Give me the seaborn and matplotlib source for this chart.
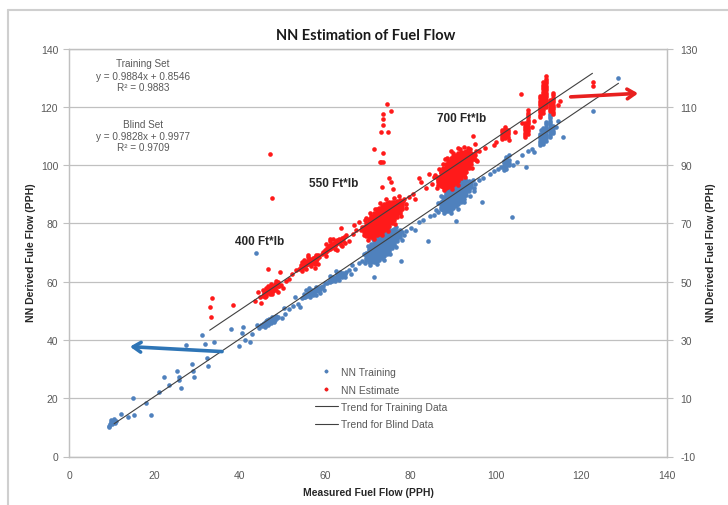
import matplotlib
matplotlib.use("Agg")
import matplotlib.pyplot as plt
from matplotlib.lines import Line2D
import pandas as pd
import seaborn as sns

# ---------------- data ----------------
# NN Training (left axis): scattered points
blue_scatter = [
    (9.2, 10.5), (9.5, 11.2), (9.8, 11.8), (10.1, 12.3), (10.4, 12.9), (9.4, 10.0), (10.0, 11.0),
    (10.6, 11.6), (9.7, 12.5), (10.9, 12.2), (12.2, 14.5), (13.8, 13.7), (15.2, 14.4), (19.2, 14.1),
    (15.0, 20.0), (18.0, 18.5), (21.0, 22.2), (22.2, 27.4), (23.3, 24.5), (25.2, 29.3), (25.7, 27.4),
    (25.8, 26.2), (26.1, 23.6), (28.7, 31.6), (29.0, 29.3), (29.2, 27.4), (32.2, 33.7), (32.4, 31.1),
    (27.4, 38.3), (31.0, 41.7), (31.8, 38.7), (34.0, 39.3), (37.9, 43.8), (40.7, 44.3), (40.4, 42.3),
    (41.1, 40.1), (42.4, 39.2), (39.8, 38.0), (44.1, 45.0), (44.9, 45.2), (43.7, 69.9), (44.5, 44.0),
    (50.5, 49.0), (51.5, 50.5), (52.5, 51.8), (49.8, 47.5), (50.2, 50.8), (53.5, 52.5), (42.8, 42.0),
    (53.0, 54.8), (54.0, 51.2), (59.8, 57.0), (60.0, 59.5), (65.5, 64.0), (66.3, 65.8), (67.0, 64.5),
    (67.8, 66.5), (68.5, 67.0), (66.0, 62.5), (71.5, 61.7), (77.8, 67.0), (78.5, 76.0), (79.0, 77.5),
    (80.0, 78.5), (81.0, 77.8), (82.0, 80.5), (83.0, 81.0), (84.1, 73.9), (84.5, 82.5), (85.5, 83.0),
    (86.0, 84.5), (90.6, 80.7), (96.7, 87.3), (95.0, 93.5), (94.8, 91.0), (96.0, 94.8), (97.0, 95.5),
    (98.5, 97.0), (99.5, 98.0), (100.5, 98.5), (103.7, 82.1), (104.0, 100.0), (105.0, 101.0),
    (106.0, 103.5), (107.0, 99.4), (107.5, 105.0), (108.5, 105.5), (109.0, 104.5), (114.0, 113.0),
    (114.5, 115.0), (115.7, 109.8), (122.7, 118.4), (128.7, 130.0), (110.5, 112.0), (113.2, 118.5),
    # fringe of the 550 and 700 clusters
    (69.0, 69.5), (70.0, 72.3), (71.2, 74.6), (72.3, 76.0), (74.8, 78.3), (76.6, 78.8), (78.0, 77.0),
    (77.9, 74.3), (76.5, 71.8), (75.2, 69.4), (73.8, 67.4), (72.2, 66.1), (70.5, 65.8), (69.2, 66.4),
    (86.5, 86.9), (87.2, 89.3), (88.3, 91.5), (89.5, 93.5), (91.0, 95.2), (92.8, 95.3), (94.6, 94.8),
    (94.9, 92.0), (93.9, 89.4), (92.6, 87.2), (91.0, 85.0), (89.4, 83.6), (87.8, 83.6), (86.4, 84.0),
]
# NN Training: 400 / 550 clusters (x, y)
blue_400 = [
    (45.2, 44.8), (45.5, 45.3), (45.8, 45.0), (46.0, 45.6), (46.2, 45.2), (46.4, 46.0), (46.5, 45.5),
    (46.7, 46.3), (46.8, 45.9), (47.0, 46.6), (47.1, 46.1), (47.3, 46.9), (47.4, 46.4), (47.6, 47.1),
    (47.8, 46.7), (48.0, 47.4), (48.2, 47.0), (48.4, 47.8), (48.6, 47.5), (48.9, 48.0), (46.1, 46.4),
    (46.9, 47.2), (47.5, 47.7), (45.9, 44.6), (46.6, 45.1), (47.9, 46.3), (48.5, 48.3), (45.6, 45.9),
    (47.2, 45.7), (46.3, 46.8),
]
blue_57 = [
    (54.6, 54.4), (55.0, 54.9), (55.3, 54.6), (55.5, 55.3), (55.8, 55.0), (56.0, 55.7), (56.2, 55.3),
    (56.4, 56.1), (56.6, 55.7), (56.8, 56.5), (57.0, 56.0), (57.2, 56.8), (57.4, 56.4), (57.6, 57.2),
    (57.8, 56.8), (58.0, 57.6), (58.2, 57.1), (58.4, 57.9), (58.7, 57.5), (59.0, 58.3), (59.3, 58.0),
    (56.1, 56.6), (56.9, 57.3), (57.7, 58.0), (57.1, 55.5), (58.5, 56.7), (55.9, 56.2), (54.9, 55.7),
    (59.5, 58.6), (56.5, 54.9), (55.5, 57.2), (57.8, 55.4), (58.8, 56.2), (56.2, 57.9),
]
blue_62 = [
    (60.4, 59.6), (60.8, 60.1), (61.1, 59.9), (61.3, 60.6), (61.6, 60.3), (61.8, 61.0), (62.0, 60.7),
    (62.3, 61.4), (62.5, 61.0), (62.7, 61.8), (63.0, 61.4), (63.2, 62.2), (63.4, 61.8), (63.7, 62.6),
    (63.9, 62.2), (64.2, 63.0), (64.5, 62.7), (61.9, 61.7), (62.8, 62.5), (63.5, 63.2), (62.2, 60.2),
    (64.0, 61.6), (61.4, 61.3), (64.8, 63.4), (61.0, 61.8), (62.6, 63.5), (63.3, 60.5), (64.6, 61.5),
]
# NN Training: dense clusters, {measured x: [derived y values]}
blue_73 = {
    69.6: [67.3, 68.2, 69.1, 69.9],
    70.2: [66.9, 67.8, 68.7, 69.6, 70.5, 71.3],
    70.8: [66.7, 67.6, 68.5, 69.4, 70.3, 71.2, 72.1, 72.9],
    71.4: [66.7, 67.6, 68.5, 69.4, 70.3, 71.2, 72.1, 73.0, 73.9],
    72.0: [67.0, 67.9, 68.8, 69.7, 70.6, 71.5, 72.4, 73.3, 74.2, 75.0],
    72.6: [67.5, 68.4, 69.3, 70.2, 71.1, 72.0, 72.9, 73.8, 74.7, 75.6],
    73.2: [68.1, 69.0, 69.9, 70.8, 71.7, 72.6, 73.5, 74.4, 75.3, 76.2],
    73.8: [68.7, 69.6, 70.5, 71.4, 72.3, 73.2, 74.1, 75.0, 75.9, 76.8],
    74.4: [69.5, 70.4, 71.3, 72.2, 73.1, 74.0, 74.9, 75.8, 76.7, 77.3],
    75.0: [70.4, 71.3, 72.2, 73.1, 74.0, 74.9, 75.8, 76.7, 77.6],
    75.6: [71.4, 72.3, 73.2, 74.1, 75.0, 75.9, 76.8, 77.7],
    76.2: [72.5, 73.4, 74.3, 75.2, 76.1, 77.0, 77.9],
    76.8: [73.8, 74.7, 75.6, 76.5, 77.4],
    77.4: [75.2, 76.1, 77.0, 77.7],
}
blue_90 = {
    87.0: [84.8, 85.7, 86.6, 87.4],
    87.6: [84.5, 85.4, 86.3, 87.2, 88.1, 88.9],
    88.2: [84.4, 85.3, 86.2, 87.1, 88.0, 88.9, 89.8, 90.3],
    88.8: [84.4, 85.3, 86.2, 87.1, 88.0, 88.9, 89.8, 90.7, 91.4],
    89.4: [84.7, 85.6, 86.5, 87.4, 88.3, 89.2, 90.1, 91.0, 91.9, 92.3],
    90.0: [85.2, 86.1, 87.0, 87.9, 88.8, 89.7, 90.6, 91.5, 92.4, 93.0],
    90.6: [85.8, 86.7, 87.6, 88.5, 89.4, 90.3, 91.2, 92.1, 93.0, 93.6],
    91.2: [86.5, 87.4, 88.3, 89.2, 90.1, 91.0, 91.9, 92.8, 93.7, 94.1],
    91.8: [87.4, 88.3, 89.2, 90.1, 91.0, 91.9, 92.8, 93.7, 94.4],
    92.4: [88.5, 89.4, 90.3, 91.2, 92.1, 93.0, 93.9, 94.5],
    93.0: [89.7, 90.6, 91.5, 92.4, 93.3, 94.4],
    93.6: [91.0, 91.9, 92.8, 93.7, 94.4],
    94.2: [92.4, 93.3, 94.2],
}
blue_streaks = {
    101.2: [99.4], 101.8: [98.2, 99.0, 99.8, 100.6, 101.4],
    102.4: [98.8, 99.6, 100.4, 101.2, 102.0, 102.8], 103.0: [100.0, 100.8, 101.6, 103.6],
    110.2: [106.8, 107.6, 108.4, 109.2, 110.0, 110.8],
    111.0: [107.2, 108.0, 108.8, 109.6, 110.4, 111.2, 112.0, 112.8],
    111.8: [108.4, 109.2, 110.0, 110.8, 111.6, 112.4, 113.2, 114.0, 114.8],
    112.6: [109.6, 110.4, 111.2, 112.0, 112.8, 113.6, 114.4, 115.2, 116.0, 116.8, 117.6],
    113.4: [111.0, 111.8, 112.6, 113.4],
}

# NN Estimate (right axis values)
red_scatter = [
    (33.4, 44.3), (32.9, 41.4), (33.2, 37.7), (38.3, 41.9), (44.6, 44.9), (46.6, 54.5), (49.3, 53.4),
    (50.1, 47.7), (43.5, 43.2), (44.2, 46.6), (53.2, 54.0), (50.8, 50.2), (51.5, 51.0), (52.2, 52.5),
    (44.9, 42.8), (47.0, 93.8), (47.4, 78.6), (75.0, 85.5), (75.4, 84.1), (73.3, 82.6), (75.8, 81.8),
    (77.3, 79.5), (78.1, 77.8), (78.9, 76.5), (82.0, 85.6), (82.4, 84.1), (84.2, 86.9), (86.3, 85.2),
    (87.9, 86.1), (94.5, 100.0), (95.1, 97.2), (95.6, 91.5), (63.7, 68.4), (66.8, 69.3), (67.2, 67.6),
    (64.9, 65.9), (68.4, 67.6), (65.5, 64.0), (66.5, 66.5), (68.0, 70.5), (69.5, 72.0), (79.5, 79.0),
    (80.5, 80.0), (81.0, 78.5), (83.5, 82.0), (85.0, 83.5), (85.5, 86.0), (74.5, 111.1), (75.5, 108.7),
    (73.4, 107.4), (73.6, 105.9), (73.4, 103.7), (73.1, 101.2), (74.8, 101.4), (71.3, 95.4),
    (73.4, 94.1), (73.1, 91.2), (72.7, 91.0), (73.6, 91.0), (95.0, 93.5), (96.0, 95.0), (97.5, 96.0),
    (99.5, 96.8), (100.0, 98.0), (105.8, 114.3), (122.7, 118.5), (122.7, 117.3), (104.5, 101.5),
    (106.0, 104.5), (109.0, 105.0), (114.5, 110.5), (115.0, 112.0), (108.5, 103.0),
    (89.5, 94.8), (91.0, 95.8), (92.5, 96.2), (88.0, 92.0), (93.8, 95.6),
    # fringe of the 550 and 700 clusters
    (68.5, 68.9), (69.3, 71.0), (70.5, 73.4), (71.6, 75.0), (72.8, 77.0), (74.2, 78.2), (76.0, 78.6),
    (78.5, 78.4), (78.8, 75.2), (77.8, 72.5), (76.4, 69.8), (74.8, 67.5), (73.2, 66.0), (71.5, 64.6),
    (70.0, 64.4), (85.8, 86.5), (86.6, 88.6), (87.5, 90.5), (88.6, 92.4), (90.0, 94.2), (91.6, 95.4),
    (93.5, 96.0), (95.2, 95.0), (95.3, 91.8), (94.3, 89.0), (92.8, 86.0), (91.2, 83.2), (89.6, 81.8),
    (87.8, 81.4), (86.2, 82.3),
]
red_400 = [
    (45.4, 45.2), (45.6, 46.0), (45.8, 45.5), (46.0, 46.6), (46.1, 45.1), (46.3, 47.0), (46.4, 46.0),
    (46.6, 47.5), (46.7, 46.5), (46.9, 48.0), (47.0, 45.6), (47.1, 47.2), (47.2, 46.6), (47.4, 48.3),
    (47.5, 47.6), (47.7, 46.8), (47.8, 48.6), (48.0, 47.8), (48.1, 49.1), (48.3, 48.2), (48.5, 47.3),
    (48.6, 49.4), (48.8, 48.6), (49.0, 49.8), (49.2, 48.4), (46.5, 48.5), (47.3, 49.2), (45.9, 44.6),
    (48.4, 50.2), (49.5, 49.0), (47.6, 45.8), (46.2, 47.8), (45.5, 47.2), (48.8, 46.6),
]
red_57 = [
    (53.8, 54.3), (54.2, 54.9), (54.4, 55.6), (54.7, 54.6), (54.9, 56.0), (55.1, 55.2), (55.3, 56.5),
    (55.5, 55.7), (55.7, 57.0), (55.9, 56.1), (56.1, 57.4), (56.3, 56.5), (56.5, 57.8), (56.6, 55.5),
    (56.8, 57.0), (57.0, 58.2), (57.2, 56.3), (57.3, 57.6), (57.5, 58.6), (57.7, 57.0), (57.9, 59.0),
    (58.1, 57.9), (58.3, 59.3), (58.5, 58.4), (56.0, 58.6), (55.4, 54.5), (57.6, 55.9), (54.5, 53.8),
    (55.0, 57.5), (56.0, 59.2), (57.5, 54.8), (58.2, 55.9), (54.6, 56.9),
]
red_62 = [
    (59.2, 59.5), (59.5, 60.3), (59.8, 59.8), (60.0, 61.0), (60.2, 60.2), (60.4, 61.6), (60.6, 60.7),
    (60.8, 62.1), (61.0, 61.2), (61.2, 62.6), (61.4, 61.6), (61.6, 63.0), (61.8, 62.0), (62.0, 63.4),
    (62.2, 62.4), (62.4, 63.8), (62.6, 62.8), (62.8, 64.2), (63.0, 63.2), (63.3, 64.6), (63.5, 63.6),
    (63.8, 65.0), (64.1, 64.1), (64.4, 65.4), (62.3, 61.2), (63.6, 62.5), (61.1, 63.8), (60.1, 58.9),
    (60.2, 62.8), (61.0, 64.5), (62.8, 61.0), (63.8, 62.2), (61.8, 64.6), (64.5, 63.3),
]
red_73 = {
    69.0: [66.0, 66.9, 67.8, 68.6],
    69.6: [65.6, 66.5, 67.4, 68.3, 69.2, 70.1],
    70.2: [65.4, 66.3, 67.2, 68.1, 69.0, 69.9, 70.8, 71.6],
    70.8: [65.4, 66.3, 67.2, 68.1, 69.0, 69.9, 70.8, 71.7, 72.6],
    71.4: [65.6, 66.5, 67.4, 68.3, 69.2, 70.1, 71.0, 71.9, 72.8, 73.7],
    72.0: [65.9, 66.8, 67.7, 68.6, 69.5, 70.4, 71.3, 72.2, 73.1, 74.0, 74.8],
    72.6: [66.4, 67.3, 68.2, 69.1, 70.0, 70.9, 71.8, 72.7, 73.6, 74.5, 75.4],
    73.2: [67.0, 67.9, 68.8, 69.7, 70.6, 71.5, 72.4, 73.3, 74.2, 75.1, 76.0],
    73.8: [67.6, 68.5, 69.4, 70.3, 71.2, 72.1, 73.0, 73.9, 74.8, 75.7, 76.6],
    74.4: [68.3, 69.2, 70.1, 71.0, 71.9, 72.8, 73.7, 74.6, 75.5, 76.4, 77.1],
    75.0: [69.1, 70.0, 70.9, 71.8, 72.7, 73.6, 74.5, 75.4, 76.3, 77.4],
    75.6: [70.0, 70.9, 71.8, 72.7, 73.6, 74.5, 75.4, 76.3, 77.2],
    76.2: [71.0, 71.9, 72.8, 73.7, 74.6, 75.5, 76.4, 77.3],
    76.8: [72.2, 73.1, 74.0, 74.9, 75.8, 76.7, 77.6],
    77.4: [73.5, 74.4, 75.3, 76.2, 77.1, 77.9],
    78.0: [75.0, 75.9, 76.8, 77.6],
}
red_90 = {
    86.4: [83.2, 84.1, 85.0, 85.9],
    87.0: [82.7, 83.6, 84.5, 85.4, 86.3, 87.2, 87.7],
    87.6: [82.4, 83.3, 84.2, 85.1, 86.0, 86.9, 87.8, 88.7, 89.1],
    88.2: [82.3, 83.2, 84.1, 85.0, 85.9, 86.8, 87.7, 88.6, 89.5, 90.4],
    88.8: [82.4, 83.3, 84.2, 85.1, 86.0, 86.9, 87.8, 88.7, 89.6, 90.5, 91.4],
    89.4: [82.7, 83.6, 84.5, 85.4, 86.3, 87.2, 88.1, 89.0, 89.9, 90.8, 91.7, 92.4],
    90.0: [83.3, 84.2, 85.1, 86.0, 86.9, 87.8, 88.7, 89.6, 90.5, 91.4, 92.3, 93.0],
    90.6: [83.9, 84.8, 85.7, 86.6, 87.5, 88.4, 89.3, 90.2, 91.1, 92.0, 92.9, 93.6],
    91.2: [84.6, 85.5, 86.4, 87.3, 88.2, 89.1, 90.0, 90.9, 91.8, 92.7, 93.6, 94.1],
    91.8: [85.5, 86.4, 87.3, 88.2, 89.1, 90.0, 90.9, 91.8, 92.7, 93.6, 94.4],
    92.4: [86.5, 87.4, 88.3, 89.2, 90.1, 91.0, 91.9, 92.8, 93.7, 94.6],
    93.0: [87.7, 88.6, 89.5, 90.4, 91.3, 92.2, 93.1, 94.0, 94.7],
    93.6: [89.0, 89.9, 90.8, 91.7, 92.6, 93.5, 94.5],
    94.2: [90.5, 91.4, 92.3, 93.2, 94.2],
    94.8: [92.0, 92.9, 93.8],
}
red_streaks = {
    101.5: [98.8, 99.6, 100.4, 101.2, 102.0], 102.1: [99.2, 100.0, 100.8, 101.6, 102.4, 103.2],
    102.7: [99.8, 100.6, 101.4, 102.2], 103.0: [98.6],
    106.8: [99.5, 100.3, 101.1, 101.9, 102.7, 103.5, 104.3],
    107.6: [100.8, 101.6, 102.4, 103.2, 104.0, 104.8, 105.6, 106.4, 107.2, 108.0, 109.0],
    110.2: [106.5, 107.3, 108.1, 108.9, 109.7, 110.5, 111.3, 112.1, 112.9, 113.7],
    111.0: [108.0, 108.8, 109.6, 110.4, 111.2, 112.0, 112.8, 113.6, 114.4, 115.2, 116.0, 116.8, 117.6, 118.4],
    111.8: [110.0, 110.8, 111.6, 112.4, 113.2, 114.0, 114.8, 115.6, 116.4, 117.2, 118.0, 118.8, 119.6, 120.4],
    112.6: [108.5, 109.3, 110.1, 110.9, 111.7, 112.5],
    113.4: [107.5, 108.3, 109.1, 109.9, 110.7, 111.5, 112.3, 113.1, 113.9, 114.7],
}

# trendlines (equations shown on the chart) and their x extents
train_slope, train_icpt = 0.9884, 0.8546
blind_slope, blind_icpt = 0.9828, 0.9977
train_x_range = [10.5, 128.7]
blind_x_range = [32.9, 122.6]

x_ticks = [0, 20, 40, 60, 80, 100, 120, 140]
y_left_ticks = [0, 20, 40, 60, 80, 100, 120, 140]
y_right_ticks = [-10, 10, 30, 50, 70, 90, 110, 130]


def to_frame(point_lists, column_dicts):
    rows = []
    for pl in point_lists:
        rows.extend(pl)
    for d in column_dicts:
        for xv, ys in d.items():
            rows.extend((xv, yv) for yv in ys)
    return pd.DataFrame(rows, columns=["x", "y"])


blue_df = to_frame([blue_scatter, blue_400, blue_57, blue_62], [blue_73, blue_90, blue_streaks])
red_df = to_frame([red_scatter, red_400, red_57, red_62], [red_73, red_90, red_streaks])
train_df = pd.DataFrame({"x": train_x_range,
                         "y": [train_slope * v + train_icpt for v in train_x_range]})
blind_df = pd.DataFrame({"x": blind_x_range,
                         "y": [blind_slope * v + blind_icpt for v in blind_x_range]})

# ---------------- drawing ----------------
sns.set_style("white")
plt.rcParams["font.family"] = ["Liberation Sans", "DejaVu Sans"]

W, H = 728, 506
BLUE = "#4f81bd"
RED = "#ff1a1a"
GRID = "#c0c0c0"
TXT = "#595959"


def px(x, y):
    return x / W, 1 - y / H


fig = plt.figure(figsize=(W / 100, H / 100), dpi=100)
fig.patch.set_facecolor("white")
L, R, T, B = 69.3, 666.7, 49.5, 457.5
ax = fig.add_axes([L / W, 1 - B / H, (R - L) / W, (B - T) / H])

sns.scatterplot(data=blue_df, x="x", y="y", ax=ax, color=BLUE, s=11, marker="o",
                linewidth=0, legend=False, zorder=3)
sns.lineplot(data=train_df, x="x", y="y", ax=ax, color="#404040", linewidth=0.8, zorder=4)

ax2 = ax.twinx()
sns.scatterplot(data=red_df, x="x", y="y", ax=ax2, color=RED, s=11, marker="o",
                linewidth=0, legend=False, zorder=3)
sns.lineplot(data=blind_df, x="x", y="y", ax=ax2, color="#404040", linewidth=0.8, zorder=4)

ax.set_xlim(0, 140)
ax.set_ylim(0, 140)
ax2.set_ylim(-10, 130)
ax.set_xticks(x_ticks)
ax.set_yticks(y_left_ticks)
ax2.set_yticks(y_right_ticks)
ax.set_xticklabels([str(v) for v in x_ticks])
ax.set_yticklabels([str(v) for v in y_left_ticks])
ax2.set_yticklabels([str(v) for v in y_right_ticks])
ax.set_xlabel("")
ax.set_ylabel("")
ax2.set_ylabel("")
ax2.set_xlabel("")

ax.grid(axis="y", color=GRID, linewidth=0.9)
ax.grid(axis="x", visible=False)
ax.set_axisbelow(True)
for a in (ax, ax2):
    for sp in a.spines.values():
        sp.set_color(GRID)
        sp.set_linewidth(0.9)
    a.tick_params(axis="both", direction="out", length=4, width=0.8, color=GRID,
                  labelsize=7.5, labelcolor=TXT, pad=3)
ax.tick_params(axis="x", pad=6)
ax.tick_params(axis="y", pad=4)
ax2.tick_params(axis="y", pad=6)

# arrows
ax.annotate("", xy=(14.2, 37.7), xytext=(35.8, 36.0),
            arrowprops=dict(arrowstyle="->,head_length=0.55,head_width=0.35",
                            color="#2e75b6", lw=2.6, shrinkA=0, shrinkB=0), zorder=6)
ax.annotate("", xy=(133.3, 124.6), xytext=(117.5, 123.4),
            arrowprops=dict(arrowstyle="->,head_length=0.55,head_width=0.35",
                            color="#e8201f", lw=2.6, shrinkA=0, shrinkB=0), zorder=6)

# legend
handles = [
    Line2D([], [], ls="none", marker="o", ms=2.4, color=BLUE, mec="#3a6aa5", mew=0.3),
    Line2D([], [], ls="none", marker="o", ms=2.4, color=RED, mec="#d00000", mew=0.3),
    Line2D([], [], color="#404040", lw=0.8),
    Line2D([], [], color="#404040", lw=0.8),
]
labels = ["NN Training", "NN Estimate", "Trend for Training Data", "Trend for Blind Data"]
leg = ax2.legend(handles, labels, loc="upper left", bbox_to_anchor=px(315, 368),
                 bbox_transform=fig.transFigure, frameon=False, fontsize=7.5,
                 handlelength=2.2, handletextpad=0.25, labelspacing=0.72,
                 borderpad=0, borderaxespad=0)
for t in leg.get_texts():
    t.set_color(TXT)

# texts
fig.text(*px(366, 36), "NN Estimation of Fuel Flow", ha="center", va="center",
         fontsize=10.5, fontweight="bold", family=["Lato", "DejaVu Sans"], color="#1a1a1a")
fig.text(*px(368, 493), "Measured Fuel Flow (PPH)", ha="center", va="center",
         fontsize=7.5, fontweight="bold", family=["Liberation Sans Narrow", "Liberation Sans"],
         color="#262626")
fig.text(*px(31, 253), "NN Derived Fule Flow (PPH)", ha="center", va="center", rotation=90,
         fontsize=7.5, fontweight="bold", family=["Liberation Sans Narrow", "Liberation Sans"],
         color="#262626")
fig.text(*px(711, 253), "NN Derived Fuel Flow (PPH)", ha="center", va="center", rotation=90,
         fontsize=7.5, fontweight="bold", family=["Liberation Sans Narrow", "Liberation Sans"],
         color="#262626")

block_lines = [("Training Set", 64.3), ("y = 0.9884x + 0.8546", 76.7), ("R² = 0.9883", 88.3),
               ("Blind Set", 125.0), ("y = 0.9828x + 0.9977", 136.7), ("R² = 0.9709", 147.7)]
for s, yy in block_lines:
    fig.text(*px(143, yy), s, ha="center", va="center", fontsize=7.2, color=TXT)

for s, xx, yy in [("400 Ft*lb", 260, 242), ("550 Ft*lb", 334, 184), ("700 Ft*lb", 462, 119)]:
    fig.text(*px(xx, yy), s, ha="center", va="center", fontsize=8.5, fontweight="bold",
             color="#262626")

# chart-area frame (left and top edges visible)
fig.add_artist(Line2D([8 / W, 8 / W], [0, 1 - 11 / H], transform=fig.transFigure,
                      color="#cfcfcf", lw=1.5))
fig.add_artist(Line2D([8 / W, 1], [1 - 11 / H, 1 - 11 / H], transform=fig.transFigure,
                      color="#cfcfcf", lw=1.5))

fig.savefig("out.png", dpi=100, facecolor="white")
